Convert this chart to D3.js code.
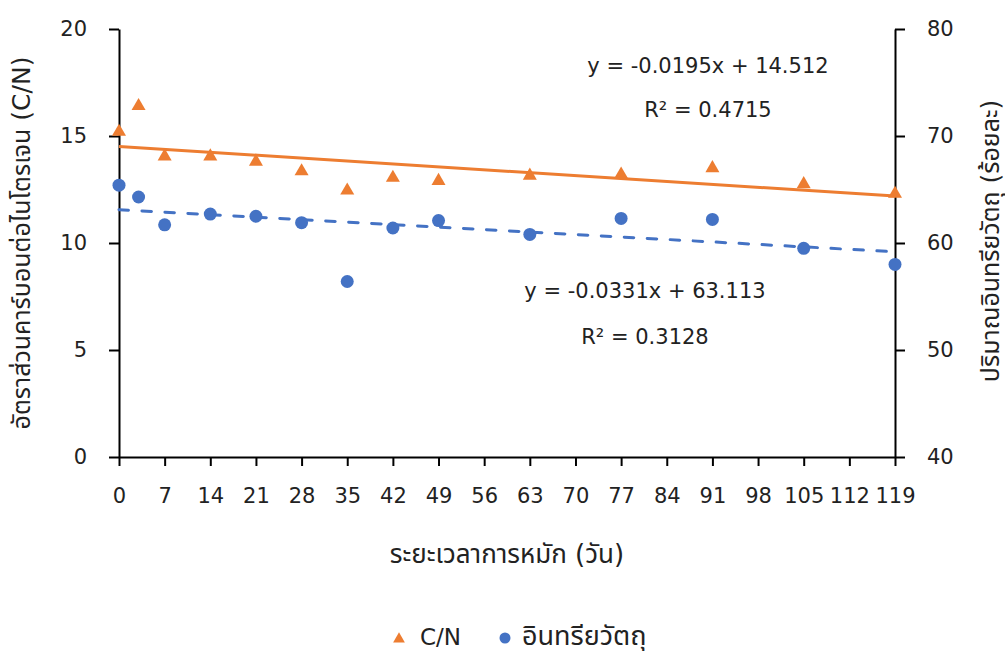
<!DOCTYPE html>
<html>
<head>
<meta charset="utf-8">
<script src="https://cdn.jsdelivr.net/npm/d3@7"></script>
<style>
  html, body { margin: 0; padding: 0; background: #fff; }
  svg text { font-family: "DejaVu Sans", "Noto Sans Thai", "Noto Sans", sans-serif; fill: #222; }
</style>
</head>
<body>
<svg id="chart" width="1005" height="651"></svg>
<script>
// Composting days at which samples were taken
const days = [0, 3, 7, 14, 21, 28, 35, 42, 49, 63, 77, 91, 105, 119];
// C/N ratio (left axis)
const cnRatio = [15.2, 16.4, 14.05, 14.05, 13.8, 13.35, 12.45, 13.05, 12.9, 13.15, 13.2, 13.5, 12.75, 12.3];
// Organic matter, percent (right axis)
const organicMatter = [65.4, 64.3, 61.7, 62.7, 62.5, 61.9, 56.4, 61.4, 62.1, 60.8, 62.3, 62.2, 59.5, 58.0];

// Linear trend lines: [slope, intercept]
const cnTrend = [-0.0195, 14.512];
const omTrend = [-0.0331, 63.113];

const xTicks = d3.range(0, 120, 7);
const leftTicks = [0, 5, 10, 15, 20];
const rightTicks = [40, 50, 60, 70, 80];

const labels = {
  x: "ระยะเวลาการหมัก (วัน)",
  left: "อัตราส่วนคาร์บอนต่อไนโตรเจน (C/N)",
  right: "ปริมาณอินทรียวัตถุ (ร้อยละ)",
  cn: "C/N",
  om: "อินทรียวัตถุ",
  cnEq: "y = -0.0195x + 14.512",
  cnR2: "R² = 0.4715",
  omEq: "y = -0.0331x + 63.113",
  omR2: "R² = 0.3128"
};

const orange = "#ED7D31";
const blue = "#4472C4";

const svg = d3.select("#chart");
const plot = { left: 119, right: 895, top: 29, bottom: 457 };

const x = d3.scaleLinear().domain([0, 119]).range([plot.left, plot.right]);
const yL = d3.scaleLinear().domain([0, 20]).range([plot.bottom, plot.top]);
const yR = d3.scaleLinear().domain([40, 80]).range([plot.bottom, plot.top]);

const fontSize = 21;
const thaiSize = 25;

function styleAxis(g) {
  g.selectAll("path.domain").attr("stroke", "#000").attr("stroke-width", 2);
  g.selectAll(".tick line").attr("stroke", "#000").attr("stroke-width", 2);
  g.selectAll(".tick text").style("font-size", fontSize + "px").attr("fill", "#222");
}

// Axes
svg.append("g")
  .attr("transform", `translate(0,${plot.bottom})`)
  .call(d3.axisBottom(x).tickValues(xTicks).tickSize(9).tickPadding(22).tickSizeOuter(0))
  .call(styleAxis);

svg.append("g")
  .attr("transform", `translate(${plot.left},0)`)
  .call(d3.axisLeft(yL).tickValues(leftTicks).tickSize(10).tickPadding(22).tickSizeOuter(0))
  .call(styleAxis);

svg.append("g")
  .attr("transform", `translate(${plot.right},0)`)
  .call(d3.axisRight(yR).tickValues(rightTicks).tickSize(10).tickPadding(22).tickSizeOuter(0))
  .call(styleAxis);

// Trend lines
const trendLine = (trend, yScale) => d3.line()
  .x(d => x(d))
  .y(d => yScale(trend[0] * d + trend[1]));

svg.append("path")
  .datum([0, 119])
  .attr("d", trendLine(cnTrend, yL))
  .attr("fill", "none")
  .attr("stroke", orange)
  .attr("stroke-width", 3);

svg.append("path")
  .datum([0, 119])
  .attr("d", trendLine(omTrend, yR))
  .attr("fill", "none")
  .attr("stroke", blue)
  .attr("stroke-width", 3)
  .attr("stroke-linecap", "round")
  .attr("stroke-dasharray", "9.5,13.5");

// Markers
const tri = d3.symbol().type(d3.symbolTriangle).size(85);

svg.append("g").selectAll("path")
  .data(days.map((d, i) => [d, cnRatio[i]]))
  .join("path")
  .attr("d", tri)
  .attr("transform", d => `translate(${x(d[0])},${yL(d[1])})`)
  .attr("fill", orange);

svg.append("g").selectAll("circle")
  .data(days.map((d, i) => [d, organicMatter[i]]))
  .join("circle")
  .attr("cx", d => x(d[0]))
  .attr("cy", d => yR(d[1]))
  .attr("r", 6.5)
  .attr("fill", blue);

// Equation labels
const eq = [
  [labels.cnEq, 708, 73],
  [labels.cnR2, 708, 117],
  [labels.omEq, 645, 298],
  [labels.omR2, 645, 344]
];
svg.append("g").selectAll("text")
  .data(eq)
  .join("text")
  .attr("x", d => d[1])
  .attr("y", d => d[2])
  .attr("text-anchor", "middle")
  .style("font-size", fontSize + "px")
  .text(d => d[0]);

// Axis titles
svg.append("text")
  .attr("x", 507).attr("y", 563)
  .attr("text-anchor", "middle")
  .style("font-size", (thaiSize + 1) + "px")
  .text(labels.x);

svg.append("text")
  .attr("transform", `translate(30,243) rotate(-90)`)
  .attr("text-anchor", "middle")
  .style("font-size", thaiSize + "px")
  .text(labels.left);

svg.append("text")
  .attr("transform", `translate(999,241) rotate(-90)`)
  .attr("text-anchor", "middle")
  .style("font-size", thaiSize + "px")
  .text(labels.right);

// Legend
const legend = svg.append("g");
legend.append("path")
  .attr("d", d3.symbol().type(d3.symbolTriangle).size(60))
  .attr("transform", "translate(399,639)")
  .attr("fill", orange);
legend.append("text")
  .attr("x", 420).attr("y", 645)
  .style("font-size", (fontSize + 2) + "px")
  .text(labels.cn);
legend.append("circle")
  .attr("cx", 505).attr("cy", 638).attr("r", 5.5)
  .attr("fill", blue);
legend.append("text")
  .attr("x", 522).attr("y", 645)
  .style("font-size", (thaiSize + 2) + "px")
  .text(labels.om);
</script>
</body>
</html>
